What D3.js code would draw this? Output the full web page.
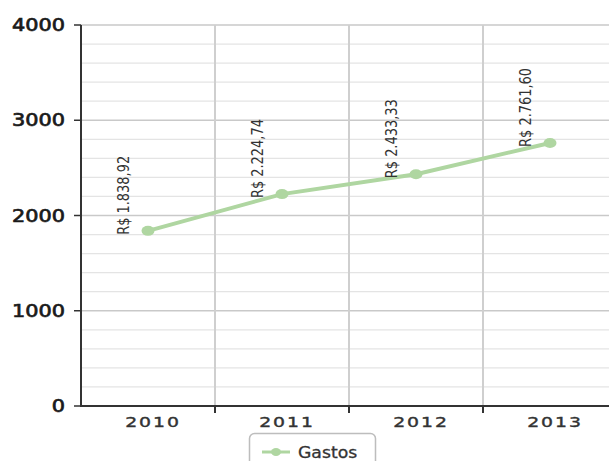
<!DOCTYPE html>
<html><head><meta charset="utf-8">
<script src="https://cdn.jsdelivr.net/npm/d3@7"></script>
<style>html,body{margin:0;padding:0;background:#fff;overflow:hidden}</style>
</head><body>
<svg id="c" width="609" height="461"></svg>
<script>
const years = ["2010","2011","2012","2013"];
const gastos = [1838.92, 2224.74, 2433.33, 2761.60];
const yTicks = [0,1000,2000,3000,4000];
const seriesName = "Gastos";

(function(){
const svg = d3.select("#c");
const W = 609, H = 461;
const pLeft = 81, pRight = 617, pTop = 25, pBottom = 406;
const x = d3.scaleBand().domain(years).range([pLeft, pRight]).padding(0);
const y = d3.scaleLinear().domain([0,4000]).range([pBottom, pTop]);
const loc = d3.formatLocale({decimal:",", thousands:".", grouping:[3], currency:["R$ ",""]});
const fmt = loc.format("$,.2f");
const green = "#afd6a1";

// minor grid
const minor = d3.range(200, 4000, 200).filter(v => v % 1000 !== 0);
svg.append("g").selectAll("line").data(minor).join("line")
  .attr("x1", pLeft).attr("x2", W).attr("y1", d=>y(d)).attr("y2", d=>y(d))
  .attr("stroke","#e4e4e4").attr("stroke-width",1.2);
// major grid
svg.append("g").selectAll("line").data(yTicks.filter(d=>d>0)).join("line")
  .attr("x1", pLeft).attr("x2", W).attr("y1", d=>y(d)).attr("y2", d=>y(d))
  .attr("stroke","#c9c9c9").attr("stroke-width",1.5);
// vertical grid at band boundaries
const bounds = years.slice(1).map(d => x(d));
svg.append("g").selectAll("line").data(bounds).join("line")
  .attr("x1", d=>d).attr("x2", d=>d).attr("y1", pTop).attr("y2", pBottom)
  .attr("stroke","#cfcfcf").attr("stroke-width",2);

// axes
svg.append("line").attr("x1",pLeft).attr("x2",pLeft).attr("y1",pTop).attr("y2",pBottom)
  .attr("stroke","#333").attr("stroke-width",2);
svg.append("line").attr("x1",pLeft-1).attr("x2",W).attr("y1",pBottom).attr("y2",pBottom)
  .attr("stroke","#333").attr("stroke-width",2);
svg.append("g").selectAll("line").data(yTicks).join("line")
  .attr("x1",pLeft-7).attr("x2",pLeft).attr("y1",d=>y(d)).attr("y2",d=>y(d))
  .attr("stroke","#333").attr("stroke-width",1.5);
svg.append("g").selectAll("line").data(bounds).join("line")
  .attr("x1",d=>d).attr("x2",d=>d).attr("y1",pBottom).attr("y2",pBottom+7)
  .attr("stroke","#333").attr("stroke-width",2);

// y labels
svg.append("g").selectAll("text").data(yTicks).join("text")
  .attr("transform", d=>`translate(65,${y(d)+6}) scale(1.19,1)`)
  .attr("text-anchor","end")
  .attr("font-family","DejaVu Sans").attr("font-size",17.5)
  .attr("fill","#1a1a1a").attr("stroke","#1a1a1a").attr("stroke-width",0.7)
  .text(d=>d);
// x labels
svg.append("g").selectAll("text").data(years).join("text")
  .attr("transform", d=>`translate(${x(d)+x.bandwidth()/2+5},427) scale(1.3,1)`)
  .attr("text-anchor","middle")
  .attr("font-family","DejaVu Sans").attr("font-size",14.5).attr("letter-spacing",1.5)
  .attr("fill","#333").attr("stroke","#333").attr("stroke-width",0.4)
  .text(d=>d);

// line
const pts = years.map((d,i)=>[x(d)+x.bandwidth()/2, y(gastos[i])]);
svg.append("path").attr("d", d3.line()(pts))
  .attr("fill","none").attr("stroke",green).attr("stroke-width",4).attr("stroke-linecap","round");
svg.append("g").selectAll("ellipse").data(pts).join("ellipse")
  .attr("cx",d=>d[0]).attr("cy",d=>d[1]).attr("rx",6.5).attr("ry",5)
  .attr("fill",green);

// data labels
svg.append("g").selectAll("text").data(years).join("text")
  .attr("transform",(d,i)=>`translate(${x(d)+x.bandwidth()/2-19},${y(gastos[i])+4}) rotate(-90) scale(0.9,1)`)
  .attr("text-anchor","start")
  .attr("font-family","DejaVu Sans Condensed, DejaVu Sans")
  .attr("font-stretch","condensed")
  .attr("font-size",16).attr("fill","#333")
  .text((d,i)=>fmt(gastos[i]));

// legend
const lg = svg.append("g");
lg.append("rect").attr("x",249.5).attr("y",433.5).attr("width",126).attr("height",40).attr("rx",5)
  .attr("fill","#fff").attr("stroke","#bdbdbd").attr("stroke-width",1.5);
lg.append("line").attr("x1",262).attr("x2",290).attr("y1",452).attr("y2",452)
  .attr("stroke",green).attr("stroke-width",3);
lg.append("ellipse").attr("cx",276).attr("cy",452).attr("rx",5).attr("ry",4).attr("fill",green);
lg.append("text").attr("transform",`translate(298,458) scale(1.15,1)`)
  .attr("font-family","DejaVu Sans").attr("font-size",15).attr("fill","#333")
  .attr("stroke","#333").attr("stroke-width",0.3).text(seriesName);
})();
</script>
</body></html>
